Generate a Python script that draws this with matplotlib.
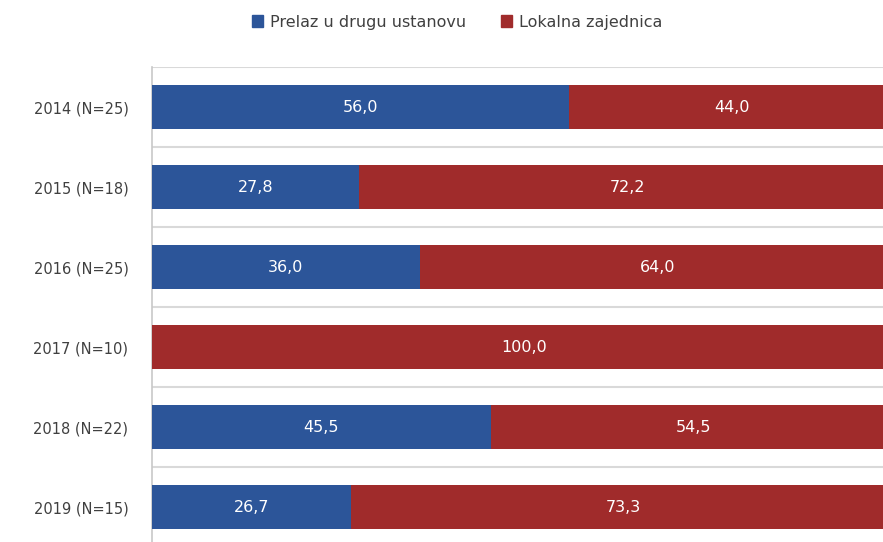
import matplotlib
matplotlib.use("Agg")
import matplotlib.pyplot as plt
from matplotlib.patches import Patch

categories = ["2014 (N=25)", "2015 (N=18)", "2016 (N=25)", "2017 (N=10)", "2018 (N=22)", "2019 (N=15)"]
prelaz = [56.0, 27.8, 36.0, 0.0, 45.5, 26.7]
lokalna = [44.0, 72.2, 64.0, 100.0, 54.5, 73.3]
series_names = ["Prelaz u drugu ustanovu", "Lokalna zajednica"]

blue = "#2c5599"
red = "#a02b2b"
txt = "#404040"

W, H = 883, 542
fig = plt.figure(figsize=(W / 100, H / 100), dpi=100)
ax = fig.add_axes([152 / W, 0, 1 - 152 / W, 1 - 67 / H])

y = list(range(len(categories)))
h = 0.56
b1 = ax.barh(y, prelaz, height=h, color=blue, zorder=3)
b2 = ax.barh(y, lokalna, left=prelaz, height=h, color=red, zorder=3)

for bars, vals, lefts in [(b1, prelaz, [0] * len(prelaz)), (b2, lokalna, prelaz)]:
    for yi, v, l in zip(y, vals, lefts):
        if v > 0:
            ax.text(l + v / 2, yi, f"{v:.1f}".replace(".", ","), ha="center", va="center",
                    color="white", fontsize=11.5, zorder=4)

ax.set_xlim(0, 100 * 731 / 744)
ax.set_ylim(-0.5 + (H - 67) / 80, -0.5)
ax.set_yticks(y)
ax.set_yticklabels(categories, fontsize=10.5, color=txt)
ax.tick_params(axis="y", length=0, pad=17)
ax.set_xticks([])
for k in range(len(categories)):
    ax.axhline(k - 0.5, color="#d9d9d9", lw=1.5, zorder=1)
for s in ["top", "right", "bottom"]:
    ax.spines[s].set_visible(False)
ax.spines["left"].set_color("#c8c8c8")
ax.spines["left"].set_linewidth(1.2)

handles = [Patch(color=blue), Patch(color=red)]
fig.legend(handles, series_names, loc="center", bbox_to_anchor=(457 / W, 1 - 22 / H), ncol=2,
           frameon=False, fontsize=11.5, labelcolor=txt, handlelength=0.7, handleheight=0.7,
           handletextpad=0.4, columnspacing=2.2)

fig.savefig("out.png", dpi=100)
